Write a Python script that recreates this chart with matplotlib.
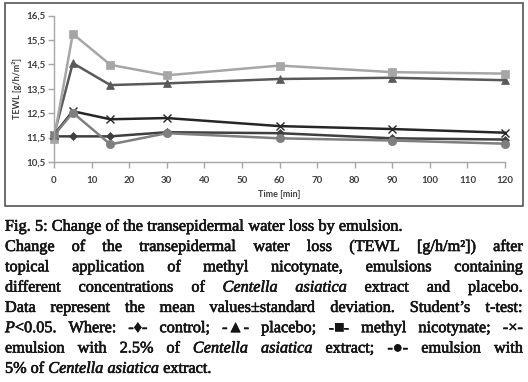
import matplotlib
matplotlib.use("Agg")
import matplotlib.pyplot as plt
import matplotlib.patheffects as pe
from matplotlib.patches import Rectangle
from matplotlib.ticker import FuncFormatter

# TEWL [g/h/m2]
time = [0, 5, 15, 30, 60, 90, 120]
control = [11.55, 11.55, 11.55, 11.72, 11.68, 11.47, 11.42]
placebo = [11.60, 14.55, 13.65, 13.72, 13.90, 13.95, 13.85]
methyl_nicotynate = [11.45, 15.75, 14.48, 14.05, 14.45, 14.18, 14.12]
centella_25 = [11.62, 12.58, 12.25, 12.30, 11.97, 11.85, 11.70]
centella_5 = [11.60, 12.52, 11.22, 11.68, 11.47, 11.38, 11.25]

xticks = list(range(0, 121, 10))
yticks = [10.5, 11.5, 12.5, 13.5, 14.5, 15.5, 16.5]

caption = [
    (False, "Fig. 5: Change of the transepidermal water loss by emulsion."),
    (True, "Change of the transepidermal water loss (TEWL [g/h/m²]) after"),
    (True, "topical application of methyl nicotynate, emulsions containing"),
    (True, "different concentrations of *Centella* *asiatica* extract and placebo."),
    (True, "Data represent the mean values±standard deviation. Student’s t-test:"),
    (True, "*P*<0.05. Where: -♦- control; -▲- placebo; -■- methyl nicotynate; -×-"),
    (True, "emulsion with 2.5% of *Centella* *asiatica* extract; -●- emulsion with"),
    (False, "5% of *Centella* *asiatica* extract."),
]

W, H = 528, 382
fig = plt.figure(figsize=(W / 100, H / 100), dpi=100)

# frame around the chart
fig.patches.append(Rectangle((5 / W, 1 - 206 / H), 518 / W, 203 / H,
                             transform=fig.transFigure, fill=False,
                             ec="#555555", lw=1.2))

ax = fig.add_axes([54 / W, 1 - 162 / H, (505 - 54) / W, (162 - 15.5) / H])

series = [
    (control, "D", "#3f3f3f", 4.5),
    (placebo, "^", "#595959", 6),
    (methyl_nicotynate, "s", "#a6a6a6", 6),
    (centella_25, "x", "#262626", 6),
    (centella_5, "o", "#7f7f7f", 6),
]
for vals, mk, col, ms in series:
    ax.plot(time, vals, color=col, lw=1.8, marker=mk, ms=ms,
            mec=col, mfc=col, mew=1.0 if mk == "x" else 0.5, clip_on=False)

ax.set_xlim(0, 120)
ax.set_ylim(10.5, 16.5)
ax.set_xticks(xticks)
ax.set_yticks(yticks)
ax.yaxis.set_major_formatter(FuncFormatter(lambda v, p: f"{v:.1f}".replace(".", ",")))
for s in ["top", "right"]:
    ax.spines[s].set_visible(False)
for s in ["left", "bottom"]:
    ax.spines[s].set_color("#a6a6a6")
    ax.spines[s].set_linewidth(1.0)
ax.tick_params(axis="both", color="#a6a6a6", length=4, width=1.0,
               labelsize=7, labelcolor="#404040")
for lab in ax.get_xticklabels() + ax.get_yticklabels():
    lab.set_fontfamily("Lato")
    lab.set_fontweight("bold")
ax.tick_params(axis="x", pad=6)
ax.tick_params(axis="y", pad=2)

ax.set_xlabel("Time [min]", fontsize=6.5, fontweight="bold", family="Lato",
              color="#404040", labelpad=4)
ax.set_ylabel("TEWL [g/h/m²]", fontsize=6.5, fontweight="bold", family="Lato",
              color="#404040", labelpad=3)

# caption, justified like the journal text
serif = ["Liberation Serif", "DejaVu Sans"]
size = 11.7
ink = "#151515"
heavy = [pe.withStroke(linewidth=0.45, foreground=ink)]
renderer = fig.canvas.get_renderer()


def parts(word):
    segs = word.split("*")
    return [(s, i % 2 == 1) for i, s in enumerate(segs) if s]


def width(s, italic):
    t = fig.text(0, 0, s, fontsize=size, family=serif,
                 fontstyle="italic" if italic else "normal")
    w = t.get_window_extent(renderer).width
    t.remove()
    return w


def word_width(word):
    return sum(width(s, it) for s, it in parts(word))


left, right = 5, 523
sp = width("a a", False) - width("aa", False)

for i, (justify, line) in enumerate(caption):
    words = line.split()
    widths = [word_width(w) for w in words]
    if justify:
        gap = (right - left - sum(widths)) / (len(words) - 1)
    else:
        gap = sp
    x = left
    yb = 230.7 + 20.3 * i
    for w, ww in zip(words, widths):
        xx = x
        for s, it in parts(w):
            fig.text(xx / W, 1 - yb / H, s, fontsize=size, family=serif,
                     fontstyle="italic" if it else "normal",
                     va="baseline", ha="left", color=ink, path_effects=heavy)
            xx += width(s, it)
        x += ww + gap

fig.savefig("out.png", dpi=100)
